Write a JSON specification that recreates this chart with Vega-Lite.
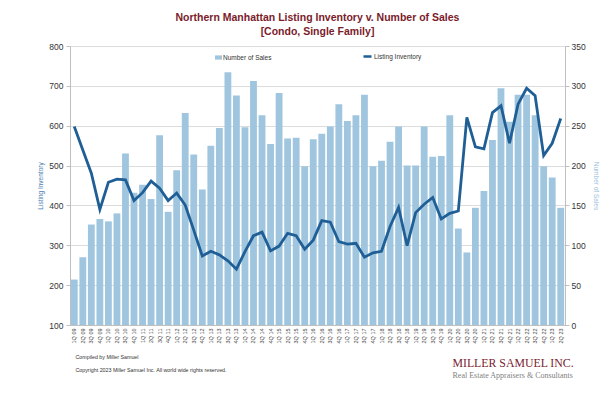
{
  "$schema": "https://vega.github.io/schema/vega-lite/v6.json",
  "width": 495,
  "height": 279,
  "autosize": {"type": "none"},
  "padding": {"left": 70, "top": 46, "right": 35, "bottom": 72},
  "background": "white",
  "config": {
    "font": "Liberation Sans",
    "view": {"stroke": null},
    "axis": {"labelFont": "Liberation Sans", "titleFont": "Liberation Sans", "domainColor": "#bfbfbf", "tickColor": "#bfbfbf", "gridColor": "#dcdcdc"}
  },
  "title": {
    "text": ["Northern Manhattan Listing Inventory v. Number of Sales", "[Condo, Single Family]"],
    "font": "Liberation Sans",
    "fontSize": 10.5,
    "fontWeight": "bold",
    "color": "#7a1c2b",
    "anchor": "middle",
    "lineHeight": 14,
    "offset": 5
  },
  "data": {
    "values": [
      {"q": "1Q 09", "inventory": 598, "sales": 57},
      {"q": "2Q 09", "inventory": 539, "sales": 85},
      {"q": "3Q 09", "inventory": 481, "sales": 126},
      {"q": "4Q 09", "inventory": 390, "sales": 133},
      {"q": "1Q 10", "inventory": 458, "sales": 130},
      {"q": "2Q 10", "inventory": 466, "sales": 140},
      {"q": "3Q 10", "inventory": 464, "sales": 215},
      {"q": "4Q 10", "inventory": 412, "sales": 166},
      {"q": "1Q 11", "inventory": 432, "sales": 176},
      {"q": "2Q 11", "inventory": 461, "sales": 158},
      {"q": "3Q 11", "inventory": 443, "sales": 238},
      {"q": "4Q 11", "inventory": 412, "sales": 142},
      {"q": "1Q 12", "inventory": 431, "sales": 194},
      {"q": "2Q 12", "inventory": 401, "sales": 266},
      {"q": "3Q 12", "inventory": 338, "sales": 214},
      {"q": "4Q 12", "inventory": 273, "sales": 170},
      {"q": "1Q 13", "inventory": 285, "sales": 225},
      {"q": "2Q 13", "inventory": 276, "sales": 247},
      {"q": "3Q 13", "inventory": 261, "sales": 317},
      {"q": "4Q 13", "inventory": 240, "sales": 288},
      {"q": "1Q 14", "inventory": 284, "sales": 248},
      {"q": "2Q 14", "inventory": 324, "sales": 306},
      {"q": "3Q 14", "inventory": 333, "sales": 263},
      {"q": "4Q 14", "inventory": 286, "sales": 227},
      {"q": "1Q 15", "inventory": 298, "sales": 291},
      {"q": "2Q 15", "inventory": 330, "sales": 234},
      {"q": "3Q 15", "inventory": 324, "sales": 235},
      {"q": "4Q 15", "inventory": 290, "sales": 199},
      {"q": "1Q 16", "inventory": 313, "sales": 233},
      {"q": "2Q 16", "inventory": 362, "sales": 240},
      {"q": "3Q 16", "inventory": 358, "sales": 249},
      {"q": "4Q 16", "inventory": 309, "sales": 277},
      {"q": "1Q 17", "inventory": 303, "sales": 256},
      {"q": "2Q 17", "inventory": 305, "sales": 263},
      {"q": "3Q 17", "inventory": 270, "sales": 289},
      {"q": "4Q 17", "inventory": 281, "sales": 199},
      {"q": "1Q 18", "inventory": 285, "sales": 206},
      {"q": "2Q 18", "inventory": 347, "sales": 230},
      {"q": "3Q 18", "inventory": 395, "sales": 249},
      {"q": "4Q 18", "inventory": 299, "sales": 200},
      {"q": "1Q 19", "inventory": 382, "sales": 200},
      {"q": "2Q 19", "inventory": 403, "sales": 249},
      {"q": "3Q 19", "inventory": 420, "sales": 211},
      {"q": "4Q 19", "inventory": 366, "sales": 212},
      {"q": "1Q 20", "inventory": 380, "sales": 263},
      {"q": "2Q 20", "inventory": 386, "sales": 121},
      {"q": "3Q 20", "inventory": 621, "sales": 91},
      {"q": "4Q 20", "inventory": 547, "sales": 147},
      {"q": "1Q 21", "inventory": 542, "sales": 168},
      {"q": "2Q 21", "inventory": 633, "sales": 232},
      {"q": "3Q 21", "inventory": 650, "sales": 297},
      {"q": "4Q 21", "inventory": 556, "sales": 255},
      {"q": "1Q 22", "inventory": 654, "sales": 289},
      {"q": "2Q 22", "inventory": 694, "sales": 289},
      {"q": "3Q 22", "inventory": 675, "sales": 263},
      {"q": "4Q 22", "inventory": 525, "sales": 199},
      {"q": "1Q 23", "inventory": 556, "sales": 185},
      {"q": "2Q 23", "inventory": 618, "sales": 147}
    ]
  },
  "layer": [
    {
      "mark": {"type": "bar", "color": "#a0c6df"},
      "encoding": {
        "x": {
          "field": "q", "type": "ordinal", "sort": null,
          "scale": {"paddingInner": 0.2, "paddingOuter": 0.1},
          "axis": {
            "orient": "bottom",
            "labelAngle": -90,
            "labelFontSize": 5.5,
            "labelColor": "#444444",
            "labelPadding": 3,
            "tickSize": 0,
            "domain": true,
            "grid": false,
            "title": ["Compiled by Miller Samuel", "Copyright 2023 Miller Samuel Inc.  All world wide rights reserved."],
            "titleFontSize": 5.3,
            "titleFontWeight": "normal",
            "titleColor": "#333333",
            "titleAnchor": "start",
            "titleAlign": "left",
            "titleBaseline": "top",
            "titleLineHeight": 13,
            "titleX": 5,
            "titleY": 29
          }
        },
        "y": {
          "field": "sales", "type": "quantitative",
          "scale": {"domain": [0, 350], "nice": false, "zero": true},
          "axis": {
            "orient": "right",
            "values": [0, 50, 100, 150, 200, 250, 300, 350],
            "grid": false,
            "labelFontSize": 8.5,
            "labelColor": "#333333",
            "tickSize": 4,
            "labelPadding": 2,
            "title": "Number of Sales",
            "titleFontSize": 6.5,
            "titleFontWeight": "normal",
            "titleColor": "#9cc3dc",
            "titlePadding": 7
          }
        },
        "color": {
          "datum": "Number of Sales",
          "scale": {"range": ["#a0c6df"]},
          "legend": {
            "orient": "none",
            "legendX": 145,
            "legendY": 8,
            "padding": 0,
            "title": null,
            "symbolType": "M-1,-0.6H1V0.6H-1Z",
            "symbolSize": 49,
            "symbolStrokeWidth": 0,
            "labelFontSize": 6.5,
            "labelColor": "#333333",
            "labelOffset": 1
          }
        }
      }
    },
    {
      "mark": {"type": "line", "color": "#1f5f96", "strokeWidth": 2.8},
      "encoding": {
        "x": {
          "field": "q", "type": "ordinal", "sort": null,
          "axis": {
            "orient": "bottom",
            "labels": false,
            "ticks": false,
            "domain": false,
            "grid": false,
            "title": "MILLER SAMUEL INC.",
            "titleFont": "Liberation Serif",
            "titleFontSize": 11.8,
            "titleFontWeight": "normal",
            "titleColor": "#7a2330",
            "titleAlign": "left",
            "titleBaseline": "middle",
            "titleX": 382,
            "titleY": 37
          }
        },
        "y": {
          "field": "inventory", "type": "quantitative",
          "scale": {"domain": [100, 800], "nice": false, "zero": false},
          "axis": {
            "orient": "left",
            "values": [100, 200, 300, 400, 500, 600, 700, 800],
            "grid": true,
            "labelFontSize": 8.5,
            "labelColor": "#333333",
            "tickSize": 4,
            "labelPadding": 3,
            "title": "Listing Inventory",
            "titleFontSize": 6.5,
            "titleFontWeight": "normal",
            "titleColor": "#4a7db3",
            "titleAngle": -90,
            "titleAlign": "center",
            "titleBaseline": "middle",
            "titleX": -30,
            "titleY": 139.5
          }
        },
        "stroke": {
          "datum": "Listing Inventory",
          "scale": {"range": ["#1f5f96"]},
          "legend": {
            "orient": "none",
            "legendX": 292,
            "legendY": 5,
            "padding": 0,
            "title": null,
            "symbolType": "stroke",
            "symbolSize": 64,
            "symbolStrokeWidth": 2.5,
            "labelFontSize": 6.5,
            "labelColor": "#333333",
            "labelOffset": 1
          }
        }
      }
    },
    {
      "mark": {"type": "point", "opacity": 0},
      "encoding": {
        "x": {
          "field": "q", "type": "ordinal", "sort": null,
          "axis": {
            "orient": "bottom",
            "labels": false,
            "ticks": false,
            "domain": false,
            "grid": false,
            "title": "Real Estate Appraisers & Consultants",
            "titleFont": "Liberation Serif",
            "titleFontSize": 8,
            "titleFontWeight": "normal",
            "titleColor": "#7f7f7f",
            "titleAlign": "left",
            "titleBaseline": "middle",
            "titleX": 382,
            "titleY": 50
          }
        },
        "y": {"field": "sales", "type": "quantitative", "axis": null}
      }
    }
  ],
  "resolve": {"scale": {"y": "independent"}, "axis": {"x": "independent"}}
}
